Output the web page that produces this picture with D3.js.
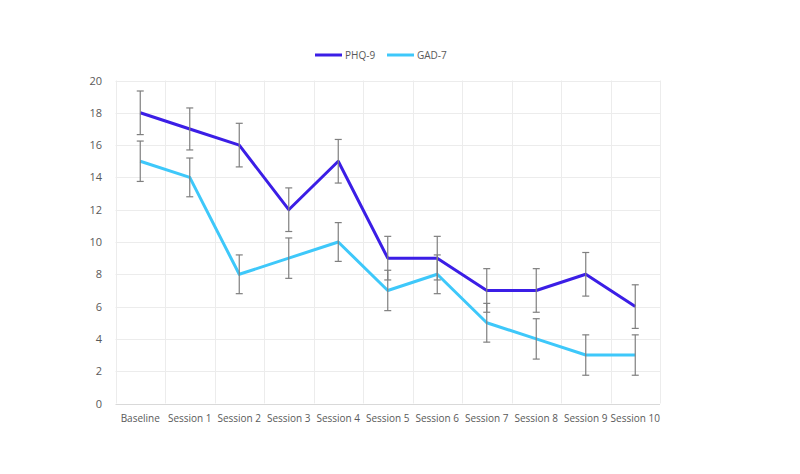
<!DOCTYPE html>
<html>
<head>
<meta charset="utf-8">
<script src="https://cdn.jsdelivr.net/npm/d3@7/dist/d3.min.js"></script>
<style>
  body { margin: 0; background: #fff; }
  text { font-family: "Open Sans", "Segoe UI", sans-serif; fill: #595959; }
</style>
</head>
<body>
<div id="chart"></div>
<script>
var categories = ['Baseline', 'Session 1', 'Session 2', 'Session 3', 'Session 4', 'Session 5',
  'Session 6', 'Session 7', 'Session 8', 'Session 9', 'Session 10'];
var phq9 = [18, 17, 16, 12, 15, 9, 9, 7, 7, 8, 6];
var gad7 = [15, 14, 8, 9, 10, 7, 8, 5, 4, 3, 3];
var phq9Err = [1.35, 1.3, 1.35, 1.35, 1.35, 1.35, 1.35, 1.35, 1.35, 1.35, 1.35];
var gad7Err = [1.25, 1.2, 1.2, 1.25, 1.2, 1.25, 1.2, 1.2, 1.25, 1.25, 1.25];
var yTicks = [0, 2, 4, 6, 8, 10, 12, 14, 16, 18, 20];

var width = 800, height = 474;
var margin = { left: 115.5, right: 140, top: 80.5, bottom: 70.5 };

var series = [
  { name: 'PHQ-9', values: phq9, err: phq9Err, color: '#3b1ee6' },
  { name: 'GAD-7', values: gad7, err: gad7Err, color: '#3ec8fa' }
];

var svg = d3.select('#chart').append('svg')
  .attr('width', width)
  .attr('height', height);

var x = d3.scaleBand()
  .domain(categories)
  .range([margin.left, width - margin.right]);

var y = d3.scaleLinear()
  .domain([0, 20])
  .range([height - margin.bottom, margin.top]);

// gridlines
svg.append('g').selectAll('line.h')
  .data(yTicks.slice(1))
  .enter().append('line')
  .attr('x1', x.range()[0]).attr('x2', x.range()[1])
  .attr('y1', function(d) { return Math.round(y(d)) + 0.5; })
  .attr('y2', function(d) { return Math.round(y(d)) + 0.5; })
  .style('stroke', '#ececec');

var bounds = categories.map(function(c) { return x(c); }).concat([x.range()[1]]);
svg.append('g').selectAll('line.v')
  .data(bounds)
  .enter().append('line')
  .attr('x1', function(d) { return Math.round(d) + 0.5; })
  .attr('x2', function(d) { return Math.round(d) + 0.5; })
  .attr('y1', y(20)).attr('y2', y(0))
  .style('stroke', '#ececec');

// bottom axis line
svg.append('line')
  .attr('x1', x.range()[0]).attr('x2', x.range()[1])
  .attr('y1', Math.round(y(0)) + 0.5).attr('y2', Math.round(y(0)) + 0.5)
  .style('stroke', '#d9d9d9');

// y tick labels
svg.append('g').selectAll('text')
  .data(yTicks)
  .enter().append('text')
  .attr('x', 102)
  .attr('y', function(d) { return y(d) + 4; })
  .attr('text-anchor', 'end')
  .style('font-size', '11px')
  .text(function(d) { return d; });

// x labels
svg.append('g').selectAll('text')
  .data(categories)
  .enter().append('text')
  .attr('x', function(d) { return x(d) + x.bandwidth() / 2; })
  .attr('y', y(0) + 18)
  .attr('text-anchor', 'middle')
  .style('font-size', '10px')
  .text(function(d) { return d; });

var cx = function(i) { return x(categories[i]) + x.bandwidth() / 2; };

var line = d3.line()
  .x(function(d, i) { return cx(i); })
  .y(function(d) { return y(d); });

series.forEach(function(s) {
  svg.append('path')
    .datum(s.values)
    .attr('d', line)
    .style('fill', 'none')
    .style('stroke', s.color)
    .style('stroke-width', 3)
    .style('stroke-linejoin', 'round');
});

// error bars
series.forEach(function(s) {
  var g = svg.append('g').style('stroke', '#7f7f7f').style('stroke-width', 1.2);
  s.values.forEach(function(v, i) {
    var top = y(v + s.err[i]), bot = y(v - s.err[i]), c = cx(i);
    g.append('line').attr('x1', c).attr('x2', c).attr('y1', top).attr('y2', bot);
    g.append('line').attr('x1', c - 3.5).attr('x2', c + 3.5).attr('y1', top).attr('y2', top);
    g.append('line').attr('x1', c - 3.5).attr('x2', c + 3.5).attr('y1', bot).attr('y2', bot);
  });
});

// legend
var legend = svg.append('g').attr('transform', 'translate(315,55)');
var lx = [0, 72];
series.forEach(function(s, i) {
  legend.append('line')
    .attr('x1', lx[i]).attr('x2', lx[i] + 27)
    .attr('y1', 0).attr('y2', 0)
    .style('stroke', s.color)
    .style('stroke-width', 3);
  legend.append('text')
    .attr('x', lx[i] + 30)
    .attr('y', 4)
    .style('font-size', '10px')
    .text(s.name);
});
</script>
</body>
</html>
